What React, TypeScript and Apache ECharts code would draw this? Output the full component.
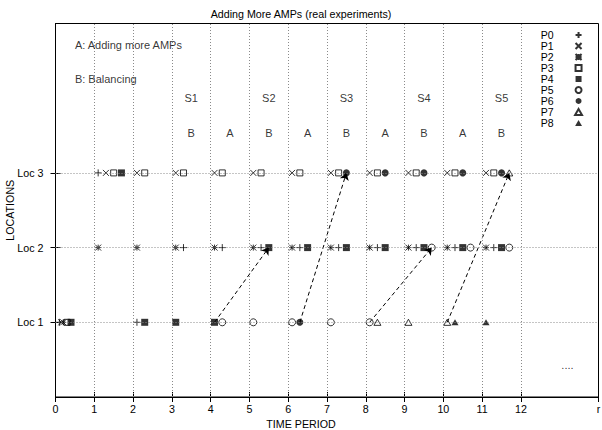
import React, { useEffect, useRef } from "react";
import * as echarts from "echarts";

const TITLE = "Adding More AMPs (real experiments)";
const X_NAME = "TIME PERIOD";
const Y_NAME = "LOCATIONS";

const X_TICKS = [0, 1, 2, 3, 4, 5, 6, 7, 8, 9, 10, 11, 12, 14];
const X_TICK_TEXT = ["0", "1", "2", "3", "4", "5", "6", "7", "8", "9", "10", "11", "12", "r"];
const X_GRID = [1, 2, 3, 4, 5, 6, 7, 8, 9, 10, 11, 12];
const LOC_VALUES = [1, 2, 3];
const LOC_LABELS = ["Loc 1", "Loc 2", "Loc 3"];

const SERIES_NAMES = ["P0", "P1", "P2", "P3", "P4", "P5", "P6", "P7", "P8"];

const P0 = [[0.1, 1], [2.1, 1], [1.1, 3], [3.3, 2], [4.3, 2], [5.3, 2], [6.3, 2], [7.3, 2], [8.3, 2], [9.3, 2], [10.3, 2], [11.3, 2]];
const P1 = [[0.15, 1], [1.3, 3], [2.1, 3], [3.1, 3], [4.1, 3], [5.1, 3], [6.1, 3], [7.1, 3], [8.1, 3], [9.1, 3], [10.1, 3], [11.1, 3]];
const P2 = [[0.2, 1], [1.1, 2], [2.1, 2], [3.1, 2], [4.1, 2], [5.1, 2], [6.1, 2], [7.1, 2], [8.1, 2], [9.1, 2], [10.1, 2], [11.1, 2]];
const P3 = [[0.3, 1], [1.5, 3], [2.3, 3], [3.3, 3], [4.3, 3], [5.3, 3], [6.3, 3], [7.3, 3], [8.3, 3], [9.3, 3], [10.3, 3], [11.3, 3]];
const P4 = [[0.4, 1], [2.3, 1], [3.1, 1], [4.1, 1], [1.7, 3], [5.5, 2], [6.5, 2], [7.5, 2], [8.5, 2], [9.5, 2], [10.5, 2], [11.5, 2]];
const P5 = [[4.3, 1], [5.1, 1], [6.1, 1], [7.1, 1], [8.1, 1], [9.7, 2], [10.7, 2], [11.7, 2]];
const P6 = [[6.3, 1], [7.5, 3], [8.5, 3], [9.5, 3], [10.5, 3], [11.5, 3]];
const P7 = [[8.3, 1], [9.1, 1], [10.1, 1], [11.7, 3]];
const P8 = [[10.3, 1], [11.1, 1]];
const P_DATA = [P0, P1, P2, P3, P4, P5, P6, P7, P8];

const ARROW_FROM = [[4.1, 1], [6.3, 1], [8.1, 1], [10.1, 1]];
const ARROW_TO = [[5.5, 2], [7.5, 3], [9.7, 2], [11.7, 3]];

const STAGE_LABELS = ["S1", "S2", "S3", "S4", "S5"];
const STAGE_X = [3.5, 5.5, 7.5, 9.5, 11.5];
const STAGE_Y = 4.0;
const STEP_LABELS = ["B", "A", "B", "A", "B", "A", "B", "A", "B"];
const STEP_X = [3.5, 4.5, 5.5, 6.5, 7.5, 8.5, 9.5, 10.5, 11.5];
const STEP_Y = 3.53;
const NOTE_LABELS = ["A: Adding more AMPs", "B: Balancing"];
const NOTE_X = [0.5, 0.5];
const NOTE_Y = [4.71, 4.26];
const DOTS_LABEL = "....";
const DOTS_POS = [13.2, 0.43];

const FONT = '"Liberation Sans", Arial, Helvetica, sans-serif';

const PLUS = "path://M0,5L10,5M5,0L5,10";
const CROSS = "path://M0,0L10,10M10,0L0,10";
const STAR = "path://M0,5L10,5M5,0L5,10M0,0L10,10M10,0L0,10";
const SQUARE = "path://M0,0L10,0L10,10L0,10Z";
const CIRCLE = "circle";
const TRIANGLE = "path://M5,0L10,8.7L0,8.7Z";

const OPEN = { color: "rgba(0,0,0,0)", borderColor: "#000", borderWidth: 1 };
const FILLED = { color: "#000", borderWidth: 0 };
const MARKERS = [
  { symbol: PLUS, size: 7, style: OPEN },
  { symbol: CROSS, size: 6, style: OPEN },
  { symbol: STAR, size: 6, style: OPEN },
  { symbol: SQUARE, size: 6, style: OPEN },
  { symbol: SQUARE, size: 7, style: FILLED },
  { symbol: CIRCLE, size: 7, style: OPEN },
  { symbol: CIRCLE, size: 7, style: FILLED },
  { symbol: TRIANGLE, size: 7, style: OPEN },
  { symbol: TRIANGLE, size: 7, style: FILLED },
];

export default function App() {
  const ref = useRef<HTMLDivElement>(null);
  useEffect(() => {
    if (!ref.current) return;
    const chart = echarts.init(ref.current, null, { renderer: "svg" });
    const xFmt = (v: number) => {
      const i = X_TICKS.indexOf(Math.round(v * 1000) / 1000);
      return i >= 0 ? X_TICK_TEXT[i] : "";
    };
    const yFmt = (v: number) => {
      const i = LOC_VALUES.indexOf(Math.round(v * 1000) / 1000);
      return i >= 0 ? LOC_LABELS[i] : "";
    };
    const pointSeries = SERIES_NAMES.map((name, i) => ({
      type: "scatter",
      name,
      data: P_DATA[i],
      symbol: MARKERS[i].symbol,
      symbolSize: MARKERS[i].size,
      symbolKeepAspect: true,
      itemStyle: MARKERS[i].style,
      emphasis: { disabled: true },
      silent: true,
      z: 3,
    }));
    const option: any = {
      animation: false,
      backgroundColor: "#fff",
      textStyle: { fontFamily: FONT, color: "#000" },
      title: {
        text: TITLE,
        left: "center",
        top: 3,
        textStyle: { fontSize: 10.7, fontWeight: "normal", color: "#000", fontFamily: FONT },
      },
      grid: {
        left: 55.5,
        right: 3.5,
        top: 23.5,
        bottom: 33,
        show: true,
        borderColor: "#000",
        borderWidth: 1,
        backgroundColor: "rgba(0,0,0,0)",
        containLabel: false,
        outerBoundsMode: "none",
      },
      legend: {
        data: SERIES_NAMES,
        orient: "vertical",
        right: 19,
        top: 29.5,
        align: "right",
        padding: 0,
        itemWidth: 40,
        itemHeight: 6,
        itemGap: 0,
        symbolKeepAspect: true,
        selectedMode: false,
        textStyle: { fontSize: 10.5, lineHeight: 9.4, color: "#000", fontFamily: FONT },
      },
      xAxis: [
        {
          type: "value",
          min: 0,
          max: 14,
          interval: 1,
          position: "bottom",
          name: X_NAME,
          nameLocation: "middle",
          nameGap: 21.5,
          nameMoveOverlap: false,
          nameTextStyle: { fontSize: 10.7, color: "#000", fontFamily: FONT, padding: [0, 52, 0, 0] },
          axisLine: { show: true, lineStyle: { color: "#000", width: 1 } },
          axisTick: { show: true, inside: true, length: 5, customValues: X_TICKS, lineStyle: { color: "#000" } },
          axisLabel: { customValues: X_TICKS, formatter: xFmt, fontSize: 10.7, color: "#000", margin: 6.5, fontFamily: FONT },
          splitLine: { show: false },
        },
        {
          type: "value",
          min: 0,
          max: 14,
          interval: 1,
          position: "top",
          axisLine: { show: true, lineStyle: { color: "#000", width: 1 } },
          axisTick: { show: true, inside: true, length: 5, customValues: X_TICKS, lineStyle: { color: "#000" } },
          axisLabel: { show: false },
          splitLine: { show: false },
        },
      ],
      yAxis: [
        {
          type: "value",
          min: 0,
          max: 5,
          interval: 1,
          position: "left",
          name: Y_NAME,
          nameLocation: "middle",
          nameGap: 40,
          nameRotate: 90,
          nameMoveOverlap: false,
          nameTextStyle: { fontSize: 10.7, color: "#000", fontFamily: FONT },
          axisLine: { show: true, lineStyle: { color: "#000", width: 1 } },
          axisTick: { show: true, inside: true, length: 5, customValues: LOC_VALUES, lineStyle: { color: "#000" } },
          axisLabel: { customValues: LOC_VALUES, formatter: yFmt, fontSize: 10.7, color: "#000", margin: 12, fontFamily: FONT },
          splitLine: { show: false },
        },
        {
          type: "value",
          min: 0,
          max: 5,
          interval: 1,
          position: "right",
          axisLine: { show: true, lineStyle: { color: "#000", width: 1 } },
          axisTick: { show: true, inside: true, length: 5, customValues: LOC_VALUES, lineStyle: { color: "#000" } },
          axisLabel: { show: false },
          splitLine: { show: false },
        },
      ],
      series: [
        {
          type: "scatter",
          name: "grid",
          data: [[0, 0]],
          symbolSize: 0,
          itemStyle: { color: "rgba(0,0,0,0)" },
          silent: true,
          z: 1,
          markLine: {
            silent: true,
            symbol: ["none", "none"],
            label: { show: false },
            animation: false,
            lineStyle: { color: "#8a8a8a", type: [1, 2], width: 1 },
            emphasis: { disabled: true },
            data: [
              ...X_GRID.map((v) => ({ xAxis: v })),
              ...LOC_VALUES.map((v) => ({ yAxis: v })),
            ],
          },
        },
        ...pointSeries,
        {
          type: "lines",
          name: "arrows",
          coordinateSystem: "cartesian2d",
          silent: true,
          z: 4,
          symbol: ["none", "arrow"],
          symbolSize: [0, 7],
          lineStyle: { color: "#000", width: 1, type: [4, 3], opacity: 1 },
          data: ARROW_FROM.map((f, i) => ({ coords: [f, ARROW_TO[i]] })),
        },
        {
          type: "scatter",
          name: "labels",
          silent: true,
          symbolSize: 0,
          itemStyle: { color: "rgba(0,0,0,0)" },
          z: 5,
          label: { show: true, position: "inside", formatter: "{b}", fontSize: 11, color: "#000", fontFamily: FONT },
          data: [
            ...STAGE_LABELS.map((t, i) => ({ name: t, value: [STAGE_X[i], STAGE_Y] })),
            ...STEP_LABELS.map((t, i) => ({ name: t, value: [STEP_X[i], STEP_Y] })),
            { name: DOTS_LABEL, value: DOTS_POS },
          ],
        },
        {
          type: "scatter",
          name: "notes",
          silent: true,
          symbolSize: 0,
          itemStyle: { color: "rgba(0,0,0,0)" },
          z: 5,
          label: { show: true, position: "inside", align: "left", formatter: "{b}", fontSize: 11, color: "#000", fontFamily: FONT },
          data: NOTE_LABELS.map((t, i) => ({ name: t, value: [NOTE_X[i], NOTE_Y[i]] })),
        },
      ],
    };
    chart.setOption(option);
    return () => chart.dispose();
  }, []);
  return <div ref={ref} style={{ position: "fixed", left: 0, top: 0, width: 602, height: 430 }} />;
}
